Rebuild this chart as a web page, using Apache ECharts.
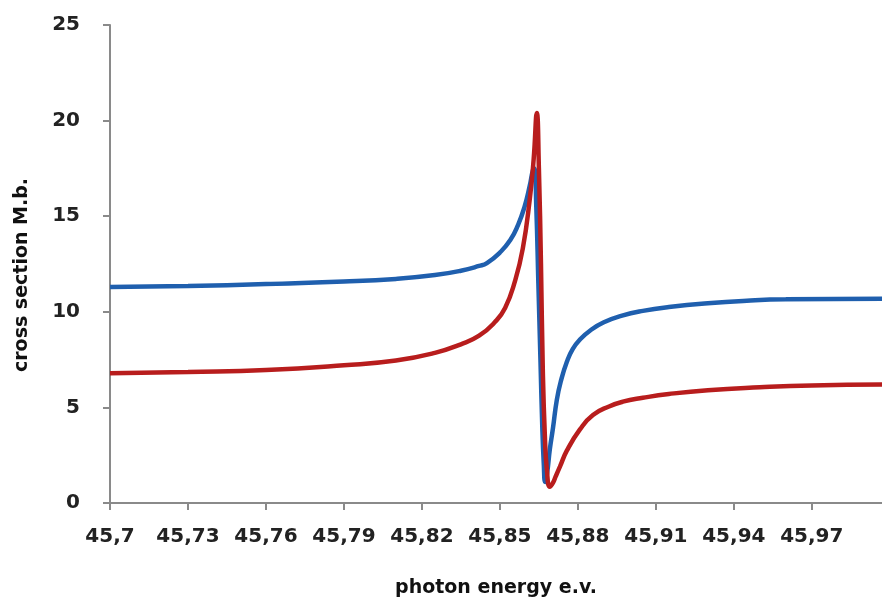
<!DOCTYPE html>
<html>
<head>
<meta charset="utf-8">
<script src="https://cdn.jsdelivr.net/npm/echarts@6/dist/echarts.min.js"></script>
<style>
  html, body { margin: 0; padding: 0; background: #ffffff; }
  #chart { width: 882px; height: 603px; }
</style>
</head>
<body>
<div id="chart"></div>
<script>
// Photon energy (e.V.) and cross section (Mb) for the two curves
const blueEnergy = [45.7000, 45.7300, 45.7600, 45.7900, 45.8100, 45.8250, 45.8350, 45.8420,
  45.8450, 45.8500, 45.8540, 45.8570, 45.8595, 45.8615, 45.8627, 45.8633,
  45.8640, 45.8648, 45.8656, 45.8663, 45.8669, 45.8674,
  45.8682, 45.8692, 45.8704, 45.8719, 45.8735, 45.8758, 45.8780, 45.8808, 45.8850,
  45.8900, 45.8970, 45.9050, 45.9150, 45.9300, 45.9450, 45.9600, 45.9970];
const blueValues = [11.30, 11.35, 11.45, 11.58, 11.72, 11.92, 12.15, 12.40,
  12.55, 13.10, 13.75, 14.55, 15.50, 16.60, 17.40, 17.50,
  15.50, 11.50, 7.50, 4.00, 2.00, 1.10,
  1.60, 2.80, 3.90, 5.40, 6.40, 7.40, 8.05, 8.55, 9.05,
  9.45, 9.80, 10.05, 10.25, 10.45, 10.58, 10.65, 10.68];

const redEnergy = [45.7000, 45.7300, 45.7600, 45.7900, 45.8100, 45.8250, 45.8350, 45.8420,
  45.8480, 45.8520, 45.8558, 45.8588, 45.8615, 45.8630, 45.8642,
  45.8650, 45.8658, 45.8665, 45.8673, 45.8681, 45.8692,
  45.8704, 45.8715, 45.8731, 45.8758, 45.8808, 45.8858, 45.8920, 45.8973,
  45.9050, 45.9150, 45.9300, 45.9500, 45.9700, 45.9970];
const redValues = [6.78, 6.85, 6.95, 7.20, 7.45, 7.85, 8.30, 8.75,
  9.45, 10.20, 11.60, 13.30, 15.90, 18.00, 20.40,
  17.50, 12.50, 7.00, 3.50, 1.70, 0.85,
  1.05, 1.40, 1.90, 2.75, 3.85, 4.60, 5.05, 5.30,
  5.50, 5.70, 5.90, 6.05, 6.15, 6.20];

// Tick labels
const energyTicks = [45.7, 45.73, 45.76, 45.79, 45.82, 45.85, 45.88, 45.91, 45.94, 45.97];
const crossTicks = [0, 5, 10, 15, 20, 25];

const pairs = (xs, ys) => xs.map((x, i) => [x, ys[i]]);
const comma = v => String(v).replace('.', ',');

const font = 'DejaVu Sans';
const axisGray = '#8a8a8a';

const chart = echarts.init(document.getElementById('chart'), null, { renderer: 'canvas' });
chart.setOption({
  backgroundColor: '#ffffff',
  animation: false,
  grid: { left: 110, right: 0, top: 25, bottom: 98, containLabel: false },
  xAxis: {
    type: 'value',
    min: energyTicks[0],
    max: 45.997,
    name: 'photon energy e.v.',
    nameLocation: 'middle',
    nameGap: 76,
    nameTextStyle: { fontFamily: font, fontWeight: 'bold', fontSize: 19, color: '#111' },
    axisLine: { show: true, onZero: false, lineStyle: { color: axisGray, width: 2 } },
    axisTick: { show: true, length: 7, customValues: energyTicks, lineStyle: { color: axisGray, width: 2 } },
    axisLabel: {
      customValues: energyTicks,
      formatter: comma,
      margin: 24,
      fontFamily: font, fontWeight: 'bold', fontSize: 20, color: '#222'
    },
    splitLine: { show: false }
  },
  yAxis: {
    type: 'value',
    min: crossTicks[0],
    max: crossTicks[crossTicks.length - 1],
    interval: 5,
    name: 'cross section M.b.',
    nameLocation: 'middle',
    nameGap: 78,
    nameRotate: 90,
    nameTextStyle: { fontFamily: font, fontWeight: 'bold', fontSize: 19, color: '#111', padding: [0, 22, 0, 0] },
    axisLine: { show: true, lineStyle: { color: axisGray, width: 2 } },
    axisTick: { show: true, length: 7, lineStyle: { color: axisGray, width: 2 } },
    axisLabel: {
      margin: 30,
      fontFamily: font, fontWeight: 'bold', fontSize: 20, color: '#222'
    },
    splitLine: { show: false }
  },
  series: [
    {
      name: 'blue',
      type: 'line',
      data: pairs(blueEnergy, blueValues),
      showSymbol: false,
      smooth: 0.5,
      lineStyle: { color: '#1f5fae', width: 4.5 },
      z: 2
    },
    {
      name: 'red',
      type: 'line',
      data: pairs(redEnergy, redValues),
      showSymbol: false,
      smooth: 0.5,
      lineStyle: { color: '#b81d1d', width: 4.5 },
      z: 3
    }
  ]
});
</script>
</body>
</html>
